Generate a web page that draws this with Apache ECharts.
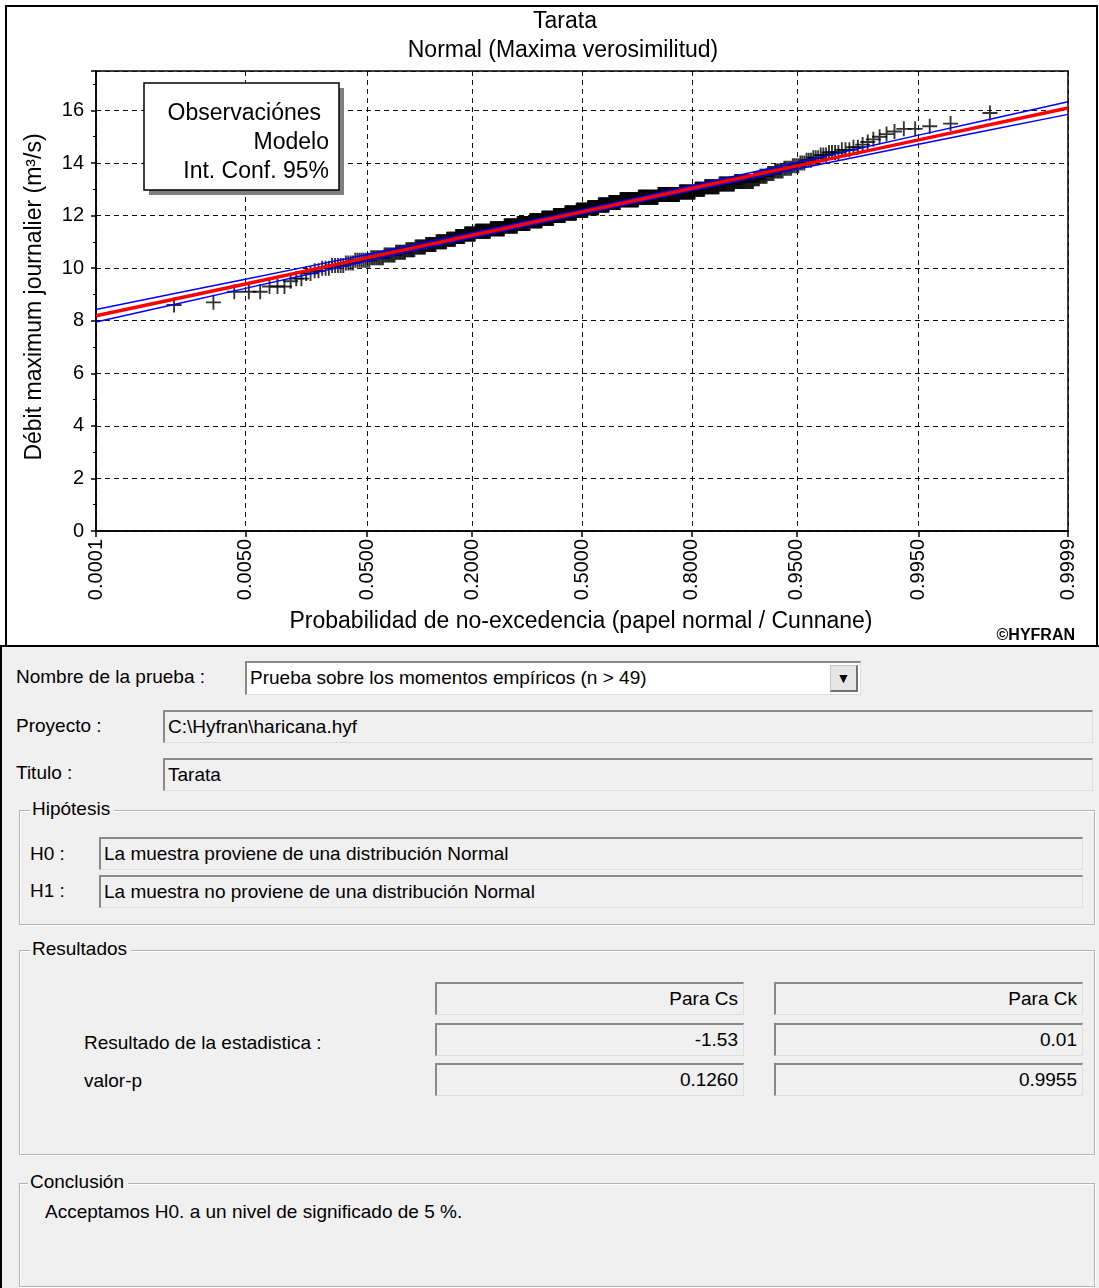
<!DOCTYPE html>
<html>
<head>
<meta charset="utf-8">
<script src="https://cdn.jsdelivr.net/npm/echarts@6/dist/echarts.min.js"></script>
<style>
html, body { margin:0; padding:0; width:1099px; height:1288px; overflow:hidden; background:#fff;
  font-family:"Liberation Sans", Arial, sans-serif; }
#chart { position:absolute; left:0; top:0; width:1099px; height:646px; }
#frame { position:absolute; left:5px; top:5px; width:1093px; height:642px; border:2px solid #000;
  box-sizing:border-box; pointer-events:none; }
#form { position:absolute; left:0; top:645px; width:1099px; height:643px; background:#f0f0f0;
  border-top:2px solid #000; border-left:2px solid #000; box-sizing:border-box; }
.lbl { position:absolute; font-size:19px; line-height:22px; color:#000; white-space:nowrap; }
.fld { position:absolute; box-sizing:border-box; background:#f0f0f0; font-size:19px; color:#000;
  border-top:2px solid #8a8a8a; border-left:2px solid #8a8a8a; border-right:1px solid #dedede; border-bottom:1px solid #dedede;
  padding:0 5px 0 3px; white-space:nowrap; overflow:hidden; }
.fld.r { text-align:right; }
.fld.white { background:#fff; }
.grp { position:absolute; box-sizing:border-box; border:1px solid #b4b4b4; box-shadow: inset 1px 1px 0 #fff, 1px 1px 0 #fff; }
.cap { position:absolute; font-size:19px; line-height:22px; background:#f0f0f0; padding:0 4px 0 2px; white-space:nowrap; }
.btn { position:absolute; box-sizing:border-box; background:#e6e6e6; border:1px solid #c8c8c8;
  border-right:2px solid #707070; border-bottom:2px solid #707070; font-size:14px; text-align:center; }
</style>
</head>
<body>
<div id="chart"></div>
<div id="frame"></div>

<div id="form">
  <div class="lbl" style="left:14px;top:19px;">Nombre de la prueba :</div>
  <div class="fld white" style="left:243px;top:14px;width:616px;height:34px;line-height:30px;">Prueba sobre los momentos empíricos (n &gt; 49)</div>
  <div class="btn" style="left:828px;top:18px;width:28px;height:27px;line-height:24px;">&#9660;</div>

  <div class="lbl" style="left:14px;top:68px;">Proyecto :</div>
  <div class="fld" style="left:161px;top:63px;width:930px;height:33px;line-height:30px;">C:\Hyfran\haricana.hyf</div>

  <div class="lbl" style="left:14px;top:115px;">Titulo :</div>
  <div class="fld" style="left:161px;top:111px;width:930px;height:33px;line-height:30px;">Tarata</div>

  <div class="grp" style="left:17px;top:163px;width:1076px;height:115px;"></div>
  <div class="cap" style="left:28px;top:151px;">Hipótesis</div>
  <div class="lbl" style="left:28px;top:196px;">H0 :</div>
  <div class="fld" style="left:97px;top:190px;width:984px;height:33px;line-height:30px;">La muestra proviene de una distribución Normal</div>
  <div class="lbl" style="left:28px;top:233px;">H1 :</div>
  <div class="fld" style="left:97px;top:228px;width:984px;height:33px;line-height:30px;">La muestra no proviene de una distribución Normal</div>

  <div class="grp" style="left:17px;top:303px;width:1076px;height:205px;"></div>
  <div class="cap" style="left:28px;top:291px;">Resultados</div>
  <div class="fld r" style="left:433px;top:335px;width:309px;height:33px;line-height:30px;">Para Cs</div>
  <div class="fld r" style="left:772px;top:335px;width:309px;height:33px;line-height:30px;">Para Ck</div>
  <div class="lbl" style="left:82px;top:385px;">Resultado de la estadistica :</div>
  <div class="fld r" style="left:433px;top:376px;width:309px;height:33px;line-height:30px;">-1.53</div>
  <div class="fld r" style="left:772px;top:376px;width:309px;height:33px;line-height:30px;">0.01</div>
  <div class="lbl" style="left:82px;top:423px;">valor-p</div>
  <div class="fld r" style="left:433px;top:416px;width:309px;height:33px;line-height:30px;">0.1260</div>
  <div class="fld r" style="left:772px;top:416px;width:309px;height:33px;line-height:30px;">0.9955</div>

  <div class="grp" style="left:17px;top:536px;width:1076px;height:104px;"></div>
  <div class="cap" style="left:26px;top:524px;">Conclusión</div>
  <div class="lbl" style="left:43px;top:554px;">Acceptamos H0. a un nivel de significado de 5 %.</div>
</div>

<script>
// Probability paper ticks (non-exceedance probability)
const tickProbs  = [0.0001, 0.005, 0.05, 0.2, 0.5, 0.8, 0.95, 0.995, 0.9999];
const tickLabels = ['0.0001', '0.0050', '0.0500', '0.2000', '0.5000', '0.8000', '0.9500', '0.9950', '0.9999'];

// Fitted normal model and 95% confidence band, evaluated at the tick probabilities
const modelValues = [8.19, 9.40, 10.39, 11.25, 12.14, 13.04, 13.89, 14.88, 16.09];
const ciUpper     = [8.43, 9.58, 10.52, 11.35, 12.22, 13.14, 14.02, 15.06, 16.33];
const ciLower     = [7.95, 9.23, 10.27, 11.16, 12.06, 12.95, 13.77, 14.71, 15.85];

// Observed annual maximum daily flows (m3/s): value and number of occurrences
const obsValues = [8.6, 8.7, 9.1, 9.3, 9.5, 9.6, 9.8, 9.9, 10.0, 10.1, 10.2, 10.3, 10.4, 10.5, 10.6, 10.7,
  10.8, 10.9, 11.0, 11.1, 11.2, 11.3, 11.4, 11.5, 11.6, 11.7, 11.8, 11.9, 12.0, 12.1, 12.2, 12.3, 12.4,
  12.5, 12.6, 12.7, 12.8, 12.9, 13.0, 13.1, 13.2, 13.3, 13.4, 13.5, 13.6, 13.7, 13.8, 13.9, 14.0, 14.1,
  14.2, 14.3, 14.4, 14.5, 14.6, 14.7, 14.8, 14.9, 15.0, 15.1, 15.2, 15.3, 15.4, 15.5, 15.9];
const obsCounts = [1, 1, 3, 3, 1, 2, 2, 2, 3, 5, 4, 8, 8, 8, 8, 8,
  10, 11, 12, 11, 12, 15, 23, 23, 23, 23, 23, 23, 23, 23, 23, 22, 21,
  22, 35, 35, 35, 23, 13, 18, 17, 18, 5, 6, 5, 6, 5, 4, 3, 3,
  3, 3, 4, 3, 2, 1, 1, 1, 1, 1, 1, 2, 1, 1, 1];

// Inverse standard normal CDF (Acklam's rational approximation)
function probit(p) {
  const a = [-3.969683028665376e+01, 2.209460984245205e+02, -2.759285104469687e+02, 1.383577518672690e+02, -3.066479806614716e+01, 2.506628277459239e+00];
  const b = [-5.447609879822406e+01, 1.615858368580409e+02, -1.556989798598866e+02, 6.680131188771972e+01, -1.328068155288572e+01];
  const c = [-7.784894002430293e-03, -3.223964580411365e-01, -2.400758277161838e+00, -2.549732539343734e+00, 4.374664141464968e+00, 2.938163982698783e+00];
  const d = [7.784695709041462e-03, 3.224671290700398e-01, 2.445134137142996e+00, 3.754408661907416e+00];
  const pl = 0.02425, ph = 1 - pl;
  let q, r;
  if (p < pl) {
    q = Math.sqrt(-2 * Math.log(p));
    return (((((c[0]*q+c[1])*q+c[2])*q+c[3])*q+c[4])*q+c[5]) / ((((d[0]*q+d[1])*q+d[2])*q+d[3])*q+1);
  }
  if (p <= ph) {
    q = p - 0.5; r = q * q;
    return (((((a[0]*r+a[1])*r+a[2])*r+a[3])*r+a[4])*r+a[5])*q / (((((b[0]*r+b[1])*r+b[2])*r+b[3])*r+b[4])*r+1);
  }
  q = Math.sqrt(-2 * Math.log(1 - p));
  return -(((((c[0]*q+c[1])*q+c[2])*q+c[3])*q+c[4])*q+c[5]) / ((((d[0]*q+d[1])*q+d[2])*q+d[3])*q+1);
}

const tickZ = tickProbs.map(probit);
const zMin = tickZ[0], zMax = tickZ[tickZ.length - 1];

// Sorted sample with Cunnane plotting positions
const sample = [];
obsValues.forEach((v, k) => { for (let j = 0; j < obsCounts[k]; j++) sample.push(v); });
const n = sample.length;
const obsPoints = sample.map((v, i) => [probit((i + 1 - 0.4) / (n + 0.2)), v]);

const modelLine = tickZ.map((z, i) => [z, modelValues[i]]);
const upperLine = tickZ.map((z, i) => [z, ciUpper[i]]);
const lowerLine = tickZ.map((z, i) => [z, ciLower[i]]);

function probLabel(z) {
  let best = 0;
  tickZ.forEach((t, i) => { if (Math.abs(t - z) < Math.abs(tickZ[best] - z)) best = i; });
  return tickLabels[best];
}

const FONT = '"Liberation Sans", Arial, sans-serif';
const TXT = '23px ' + FONT;
const dash = { color: '#111', width: 1, type: [5, 4] };
const plusPath = 'path://M7,0h2v16h-2z M0,7h16v2h-16z';

const chart = echarts.init(document.getElementById('chart'), null, { renderer: 'canvas' });
chart.setOption({
  animation: false,
  backgroundColor: '#fff',
  grid: { left: 96, right: 31, top: 71, bottom: 115, show: true, borderColor: '#000', borderWidth: 1.5, backgroundColor: 'transparent' },
  xAxis: {
    type: 'value', min: zMin, max: zMax,
    axisLine: { onZero: false, lineStyle: { color: '#000', width: 1.5 } },
    axisTick: { show: true, length: 6, customValues: tickZ, lineStyle: { color: '#000', width: 1.5 } },
    axisLabel: { customValues: tickZ, rotate: 90, margin: 8, fontSize: 20, color: '#000', fontFamily: FONT,
      showMinLabel: true, showMaxLabel: true, formatter: v => probLabel(v) },
    splitLine: { show: true, lineStyle: dash }
  },
  yAxis: {
    type: 'value', min: 0, max: 17.5, interval: 2,
    axisLine: { show: true, onZero: false, lineStyle: { color: '#000', width: 1.5 } },
    axisTick: { show: true, length: 5, lineStyle: { color: '#000', width: 1.5 } },
    minorTick: { show: true, splitNumber: 2, length: 3, lineStyle: { color: '#000', width: 1 } },
    axisLabel: { fontSize: 20, color: '#000', fontFamily: FONT, margin: 12, showMaxLabel: false },
    splitLine: { show: true, lineStyle: dash }
  },
  series: [
    { name: 'Observaciónes', type: 'scatter', data: obsPoints, symbol: plusPath, symbolSize: 15,
      itemStyle: { color: '#000' }, z: 2 },
    { name: 'Int. Conf. 95% (sup.)', type: 'line', data: upperLine, smooth: 0.3, symbol: 'none',
      lineStyle: { color: '#0000ff', width: 1.5 }, z: 3 },
    { name: 'Int. Conf. 95% (inf.)', type: 'line', data: lowerLine, smooth: 0.3, symbol: 'none',
      lineStyle: { color: '#0000ff', width: 1.5 }, z: 3 },
    { name: 'Modelo', type: 'line', data: modelLine, symbol: 'none',
      lineStyle: { color: '#ff0000', width: 3.5 }, z: 4 }
  ],
  graphic: [
    { type: 'text', z: 100, style: { text: 'Tarata', x: 565, y: 22, align: 'center', verticalAlign: 'middle', font: TXT, fill: '#000' } },
    { type: 'text', z: 100, style: { text: 'Normal (Maxima verosimilitud)', x: 563, y: 51, align: 'center', verticalAlign: 'middle', font: TXT, fill: '#000' } },
    { type: 'text', z: 100, x: 35, y: 297, rotation: Math.PI / 2,
      style: { text: 'Débit maximum journalier (m³/s)', x: 0, y: 0, align: 'center', verticalAlign: 'middle', font: TXT, fill: '#000' } },
    { type: 'text', z: 100, style: { text: 'Probabilidad de no-excedencia (papel normal / Cunnane)', x: 581, y: 622, align: 'center', verticalAlign: 'middle', font: TXT, fill: '#000' } },
    { type: 'text', z: 100, style: { text: '©HYFRAN', x: 1075, y: 636, align: 'right', verticalAlign: 'middle', font: 'bold 16px ' + FONT, fill: '#000' } },
    { type: 'rect', z: 100, shape: { x: 149, y: 88, width: 195, height: 107 }, style: { fill: '#808080' } },
    { type: 'rect', z: 101, shape: { x: 144, y: 83, width: 195, height: 107 }, style: { fill: '#fff', stroke: '#000', lineWidth: 1.5 } },
    { type: 'text', z: 102, style: { text: 'Observaciónes', x: 321, y: 114, align: 'right', verticalAlign: 'middle', font: TXT, fill: '#000' } },
    { type: 'text', z: 102, style: { text: 'Modelo', x: 329, y: 143, align: 'right', verticalAlign: 'middle', font: TXT, fill: '#000' } },
    { type: 'text', z: 102, style: { text: 'Int. Conf. 95%', x: 329, y: 172, align: 'right', verticalAlign: 'middle', font: TXT, fill: '#000' } }
  ]
});
</script>
</body>
</html>
